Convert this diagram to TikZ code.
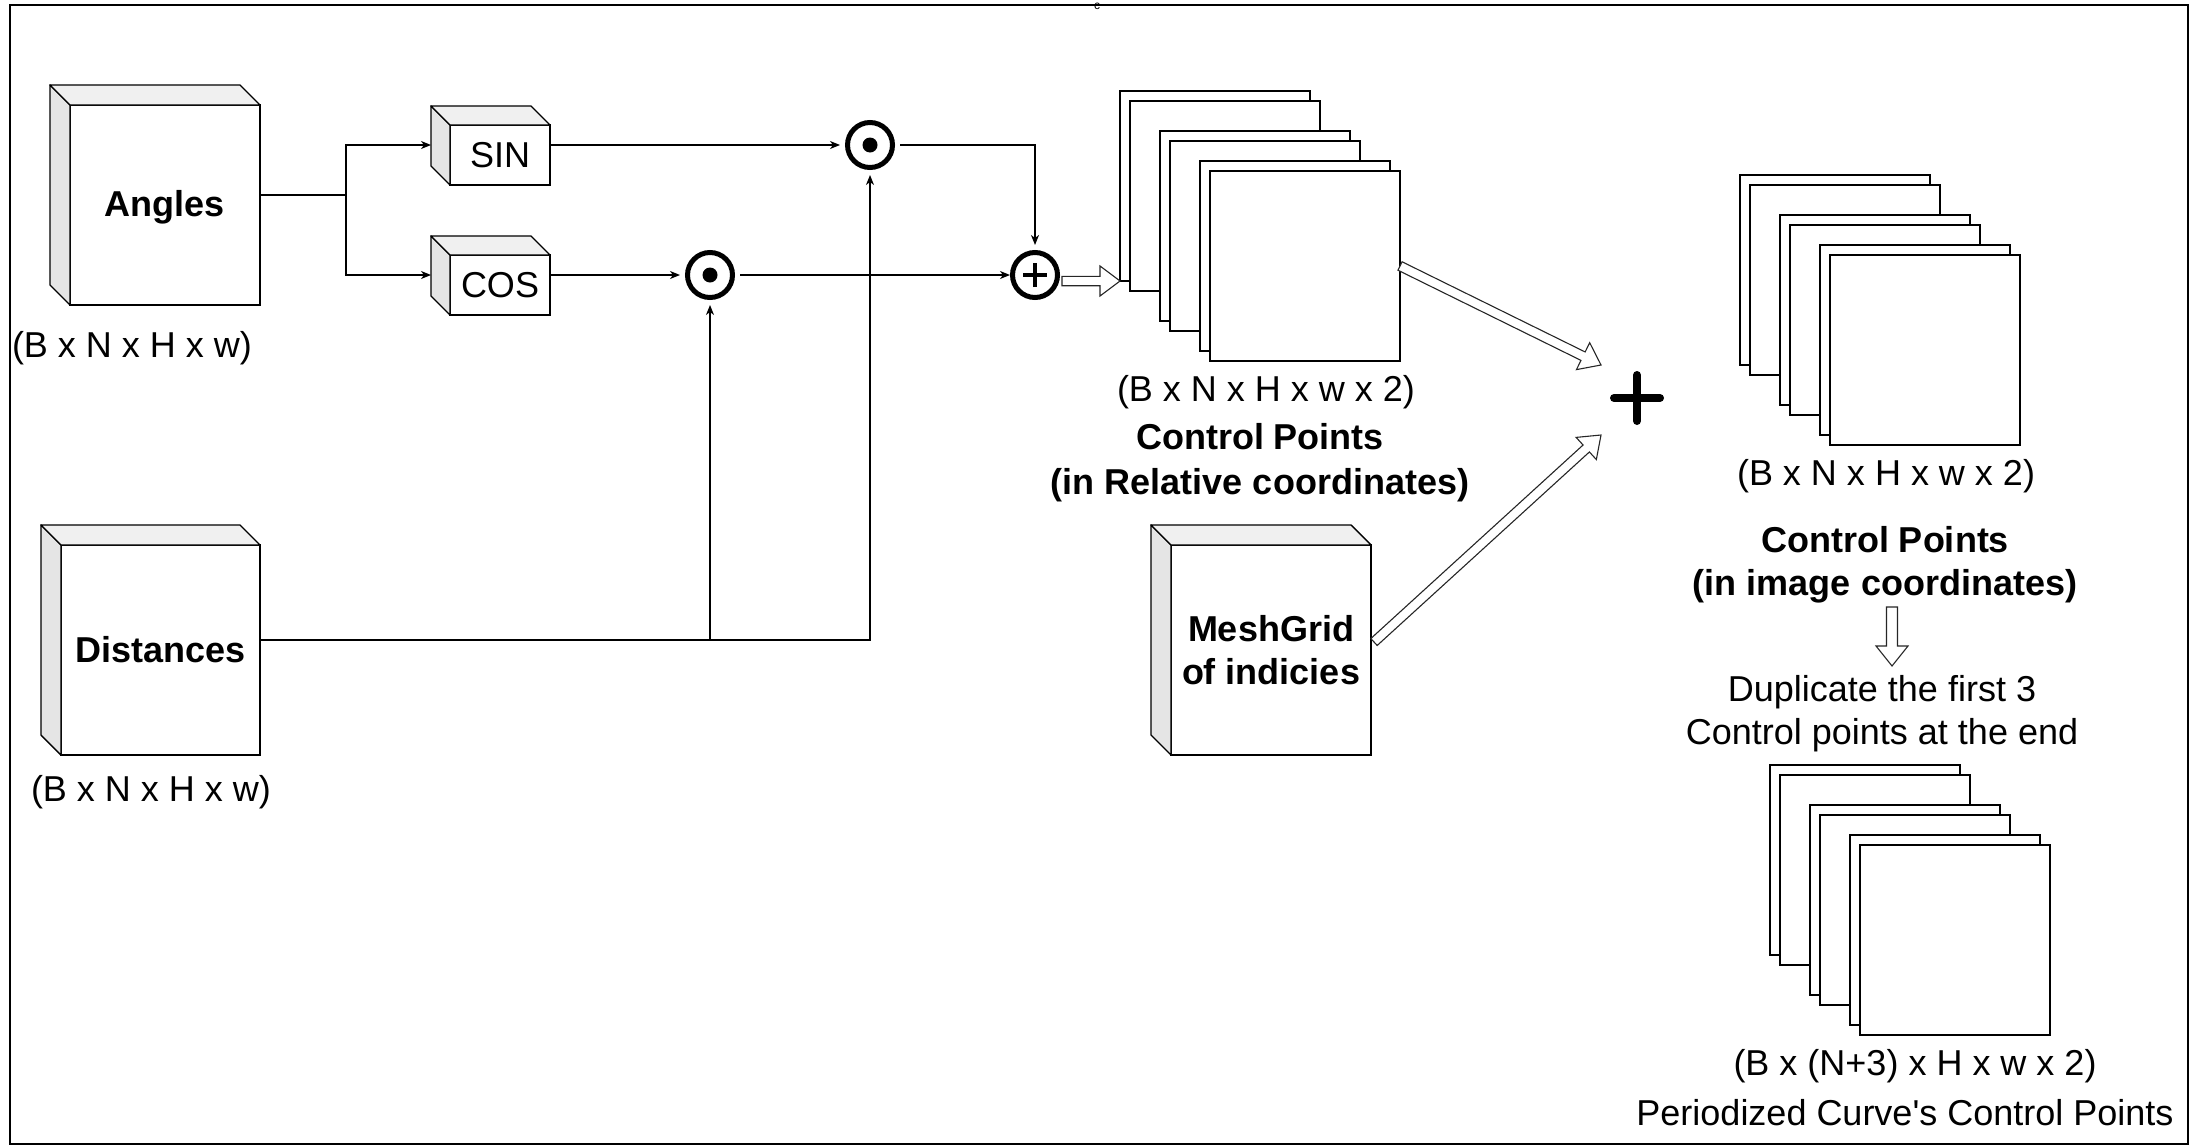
\documentclass[tikz,border=0pt]{standalone}
\usepackage{fontspec}
\setmainfont{Liberation Sans}[Ligatures=TeXOff]
\usetikzlibrary{arrows.meta,calc}

\tikzset{
  conn/.style={line width=1.4pt, draw=black},
  arr/.style={conn, -{Stealth[length=10pt,width=8pt,inset=3pt]}},
  txt/.style={font=\fontsize{36}{43}\selectfont, align=center, inner sep=0pt},
  btxt/.style={font=\fontsize{36}{43}\selectfont\bfseries, align=center, inner sep=0pt},
  cubefront/.style={draw=black, fill=white, line width=1.4pt, inner sep=0pt, outer sep=0pt, align=center},
  cubeleft/.style={draw=black, fill=black!10, line width=1.4pt, line join=round},
  cubetop/.style={draw=black, fill=black!6, line width=1.4pt, line join=round},
  sheet/.style={draw=black, fill=white, line width=1.4pt, minimum width=190pt, minimum height=190pt, inner sep=0pt, outer sep=0pt, anchor=north west},
  dotop/.style={circle, draw=black, fill=white, line width=5pt, minimum size=45pt, inner sep=0pt, outer sep=7.5pt,
     path picture={\fill[black] (path picture bounding box.center) circle (7.5pt);}},
  plusop/.style={circle, draw=black, fill=white, line width=5pt, minimum size=45pt, inner sep=0pt, outer sep=2.5pt,
     path picture={\draw[black, line width=4.5pt] ([xshift=-12pt]path picture bounding box.center) -- ([xshift=12pt]path picture bounding box.center);
                   \draw[black, line width=4.5pt] ([yshift=-12pt]path picture bounding box.center) -- ([yshift=12pt]path picture bounding box.center);}},
  hollow/.style={draw=black!85, fill=white, line width=1.1pt, line join=miter},
}

\newcommand{\cubesides}[2]{%
  \filldraw[cubeleft] (#1.north west) -- ++(-#2,-#2) -- ($(#1.south west)+(-#2,-#2)$) -- (#1.south west) -- cycle;
  \filldraw[cubetop] (#1.north west) -- ++(-#2,-#2) -- ($(#1.north east)+(-#2,-#2)$) -- (#1.north east) -- cycle;
}

\newcommand{\hollowarrow}[4]{% from, to, shaft half width, head half width
  \coordinate (ha-base) at ($(#2)!20pt!(#1)$);
  \filldraw[hollow] ($(#1)!#3!90:(#2)$) -- ($(ha-base)!#3!90:(#2)$) -- ($(ha-base)!#4!90:(#2)$) -- (#2)
     -- ($(ha-base)!#4!-90:(#2)$) -- ($(ha-base)!#3!-90:(#2)$) -- ($(#1)!#3!-90:(#2)$) -- cycle;
}

\begin{document}
\begin{tikzpicture}[x=1pt, y=-1pt]
\useasboundingbox (0,0) rectangle (2191,1146);
\draw[line width=1.5pt] (10,5) rectangle (2188,1144);
\node[font=\fontsize{12}{12}\selectfont, inner sep=0pt] (topc) at (1097,6) {c};

% ---------- input cubes ----------
\node[cubefront, minimum width=190pt, minimum height=200pt] (angles) at (165,205) {};
\cubesides{angles}{20}
\node[btxt] (anglestxt) at ([yshift=-2pt]angles.center) {Angles};
\node[txt] (angdim) at (132,348) {(B x N x H x w)};

\node[cubefront, minimum width=199pt, minimum height=210pt] (dist) at (160.5,650) {};
\cubesides{dist}{20}
\node[btxt] (disttxt) at (dist.center) {Distances};
\node[txt] (distdim) at (151,792) {(B x N x H x w)};

\node[cubefront, minimum width=100pt, minimum height=60pt] (sin) at (500,155) {};
\cubesides{sin}{19}
\node[txt] (sintxt) at (sin.center) {SIN};

\node[cubefront, minimum width=100pt, minimum height=60pt] (cos) at (500,285) {};
\cubesides{cos}{19}
\node[txt] (costxt) at (cos.center) {COS};

\node[cubefront, minimum width=200pt, minimum height=210pt] (mesh) at (1271,650) {};
\cubesides{mesh}{20}
\node[btxt] (meshtxt) at (mesh.center) {MeshGrid\\of indicies};

% ---------- operators ----------
\node[dotop] (dotA) at (870,145) {};
\node[dotop] (dotB) at (710,275) {};
\node[plusop] (plusc) at (1035,275) {};

% ---------- connectors ----------
\coordinate (split) at (346,195);
\coordinate (angout) at ([yshift=10pt]angles.east);
\coordinate (sinin) at ([xshift=-19pt,yshift=10pt]sin.west);
\coordinate (cosin) at ([xshift=-19pt,yshift=10pt]cos.west);
\coordinate (sinout) at ([yshift=10pt]sin.east);
\coordinate (cosout) at ([yshift=10pt]cos.east);
\coordinate (distout) at ([yshift=10pt]dist.east);
\draw[conn] (angout) -- (split);
\draw[arr] (split) |- (sinin);
\draw[arr] (split) |- (cosin);
\draw[arr] (sinout) -- (dotA.west);
\draw[arr] (cosout) -- (dotB.west);
\draw[arr, shorten >=5pt] (dotA.east) -| (plusc.north);
\draw[arr] (dotB.east) -- (plusc.west);
\draw[arr] (distout) -| (dotA.south);
\coordinate (distsplit) at (dotB.south |- distout);
\draw[arr] (distsplit) -- (dotB.south);

% ---------- stack 1 ----------
\foreach \px/\py/\nm in {1120/91/sa, 1130/101/sb, 1160/131/sc, 1170/141/sd, 1200/161/se, 1210/171/sf}
  \node[sheet] (one\nm) at (\px,\py) {};
\node[txt] (onedim) at (1266,392) {(B x N x H x w x 2)};
\node[btxt, font=\fontsize{36}{45}\selectfont\bfseries] (onelbl) at (1260,463) {Control Points\\(in Relative coordinates)};

\coordinate (plusout) at ([xshift=2pt,yshift=-6pt]plusc.east);
\hollowarrow{plusout}{onesa.south west}{4.7pt}{15pt}

% ---------- big plus ----------
\coordinate (bigplus) at (1637,398);
\draw[line width=8pt, line cap=round] ([xshift=-23pt]bigplus) -- ([xshift=23pt]bigplus);
\draw[line width=8pt, line cap=round] ([yshift=-23pt]bigplus) -- ([yshift=23pt]bigplus);

\coordinate (tipone) at (1601,365);
\coordinate (tiptwo) at (1601,435);
\coordinate (meshout) at ([xshift=3pt,yshift=8pt]mesh.east);
\hollowarrow{onesf.east}{tipone}{4.7pt}{15pt}
\hollowarrow{meshout}{tiptwo}{4.7pt}{15pt}

% ---------- stack 2 ----------
\foreach \px/\py/\nm in {1740/175/sa, 1750/185/sb, 1780/215/sc, 1790/225/sd, 1820/245/se, 1830/255/sf}
  \node[sheet] (two\nm) at (\px,\py) {};
\node[txt] (twodim) at (1886,476) {(B x N x H x w x 2)};
\node[btxt] (twolbl) at (1885,565) {Control Points\\(in image coordinates)};

\coordinate (downfrom) at (1892,607);
\coordinate (downto) at (1892,666);
\hollowarrow{downfrom}{downto}{5.5pt}{16pt}

\node[txt] (duptxt) at (1882,714) {Duplicate the first 3\\Control points at the end};

% ---------- stack 3 ----------
\foreach \px/\py/\nm in {1770/765/sa, 1780/775/sb, 1810/805/sc, 1820/815/sd, 1850/835/se, 1860/845/sf}
  \node[sheet] (three\nm) at (\px,\py) {};
\node[txt] (threedim) at (1915,1066) {(B x (N+3) x H x w x 2)};
\node[txt] (threelbl) at (1905,1113) {Periodized Curve's Control Points};
\end{tikzpicture}
\end{document}
